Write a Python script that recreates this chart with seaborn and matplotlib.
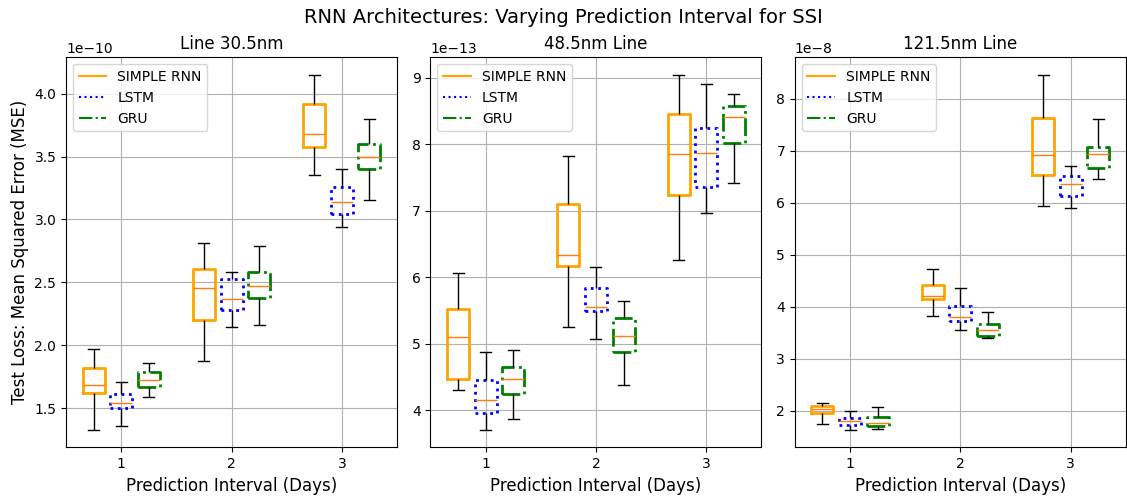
import numpy as np
import pandas as pd
import seaborn as sns
import matplotlib.pyplot as plt
from matplotlib.lines import Line2D

days = [1, 2, 3]
models = ["SIMPLE RNN", "LSTM", "GRU"]
panel_titles = ["Line 30.5nm", "48.5nm Line", "121.5nm Line"]
scales = [1e-10, 1e-13, 1e-8]

# box stats per model, one entry per day: lower whisker, q1, median, q3, upper whisker
# Line 30.5nm (x1e-10)
l30_simple = [[1.33, 1.617, 1.688, 1.816, 1.970], [1.872, 2.198, 2.458, 2.604, 2.811], [3.350, 3.575, 3.679, 3.915, 4.149]]
l30_lstm = [[1.359, 1.505, 1.545, 1.611, 1.712], [2.142, 2.283, 2.365, 2.527, 2.580], [2.941, 3.047, 3.135, 3.257, 3.403]]
l30_gru = [[1.585, 1.667, 1.723, 1.784, 1.856], [2.158, 2.376, 2.469, 2.583, 2.792], [3.156, 3.403, 3.493, 3.602, 3.798]]
# 48.5nm Line (x1e-13)
l48_simple = [[4.307, 4.477, 5.106, 5.523, 6.070], [5.246, 6.176, 6.337, 7.106, 7.819], [6.266, 7.241, 7.849, 8.452, 9.045]]
l48_lstm = [[3.709, 3.955, 4.156, 4.457, 4.874], [5.075, 5.487, 5.558, 5.844, 6.161], [6.960, 7.362, 7.869, 8.251, 8.915]]
l48_gru = [[3.874, 4.241, 4.467, 4.653, 4.899], [4.387, 4.874, 5.116, 5.382, 5.648], [7.412, 8.015, 8.417, 8.583, 8.764]]
# 121.5nm Line (x1e-8)
l121_simple = [[1.755, 1.960, 2.040, 2.101, 2.153], [3.822, 4.143, 4.207, 4.425, 4.727], [5.927, 6.524, 6.909, 7.621, 8.456]]
l121_lstm = [[1.639, 1.729, 1.806, 1.870, 1.992], [3.552, 3.719, 3.802, 4.008, 4.367], [5.888, 6.126, 6.350, 6.504, 6.703]]
l121_gru = [[1.646, 1.710, 1.761, 1.883, 2.082], [3.392, 3.430, 3.546, 3.668, 3.905], [6.460, 6.659, 6.941, 7.069, 7.608]]

panels = [[l30_simple, l30_lstm, l30_gru],
          [l48_simple, l48_lstm, l48_gru],
          [l121_simple, l121_lstm, l121_gru]]

colors = ["orange", "blue", "green"]
styles = ["-", ":", "-."]
offsets = [-0.25, 0.0, 0.25]

fig, axes = plt.subplots(1, 3, figsize=(11.27, 4.97), dpi=100)
fig.subplots_adjust(left=0.0586, right=0.999, bottom=0.100, top=0.885, wspace=0.101)

for ax, stats, title, sc in zip(axes, panels, panel_titles, scales):
    for m, model_stats in enumerate(stats):
        rows = []
        for d, five in zip(days, model_stats):
            for v in five:
                rows.append({"pos": d + offsets[m], "mse": v * sc})
        df = pd.DataFrame(rows)
        sns.boxplot(data=df, x="pos", y="mse", native_scale=True, width=0.2,
                    fill=False, color=colors[m], linewidth=2, whis=(0, 100),
                    showfliers=False,
                    boxprops=dict(linestyle=styles[m], linewidth=2, color=colors[m]),
                    whiskerprops=dict(color="black", linewidth=1, linestyle="-"),
                    capprops=dict(color="black", linewidth=1, linestyle="-"),
                    medianprops=dict(color="#ff7f0e", linewidth=1, linestyle="-"),
                    ax=ax)
    ax.set_xlim(0.5, 3.5)
    ax.set_xticks(days)
    ax.set_xticklabels([str(d) for d in days])
    ax.grid(True, color="#b0b0b0", linewidth=0.8)
    ax.set_axisbelow(True)
    ax.set_title(title, fontsize=12)
    ax.set_xlabel("Prediction Interval (Days)", fontsize=12)
    ax.set_ylabel("")
    ax.tick_params(labelsize=10)
    handles = [Line2D([0], [0], color=c, linestyle=s, linewidth=1.5) for c, s in zip(colors, styles)]
    ax.legend(handles, models, loc="upper left", fontsize=10)

axes[0].set_ylabel("Test Loss: Mean Squared Error (MSE)", fontsize=12)
fig.suptitle("RNN Architectures: Varying Prediction Interval for SSI", fontsize=14, y=0.983)

plt.savefig("out.png")
